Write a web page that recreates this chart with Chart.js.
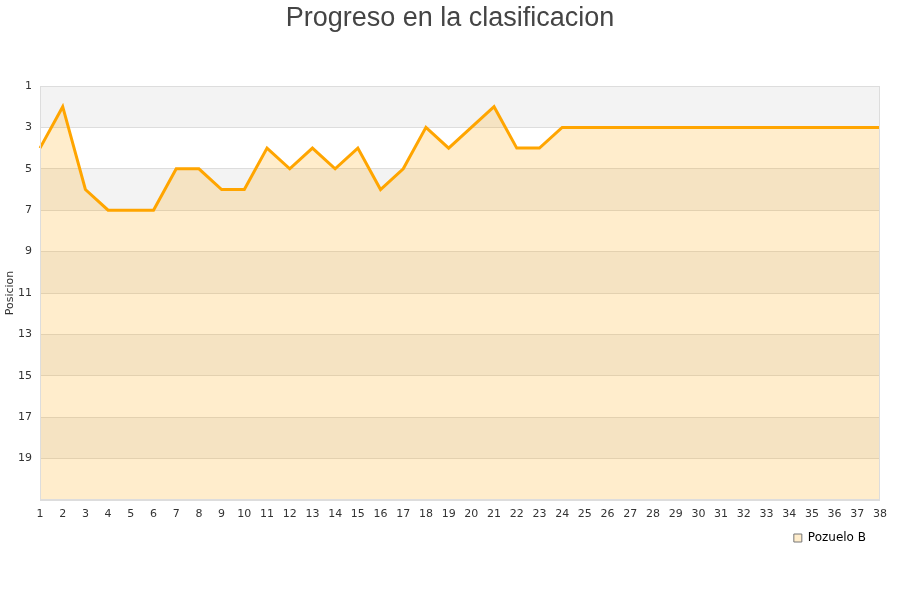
<!DOCTYPE html>
<html>
<head>
<meta charset="utf-8">
<script src="https://cdn.jsdelivr.net/npm/chart.js@4/dist/chart.umd.min.js"></script>
<style>
html,body{margin:0;padding:0;background:#fff;}
#wrap{width:900px;height:600px;}
</style>
</head>
<body>
<div id="wrap"><canvas id="c" width="900" height="600"></canvas></div>
<script>
const jornadas = ["1","2","3","4","5","6","7","8","9","10","11","12","13","14","15","16","17","18","19","20","21","22","23","24","25","26","27","28","29","30","31","32","33","34","35","36","37","38"];
const posiciones = [4,2,6,7,7,7,5,5,6,6,4,5,4,5,4,6,5,3,4,3,2,4,4,3,3,3,3,3,3,3,3,3,3,3,3,3,3,3];
const yTicks = [1,3,5,7,9,11,13,15,17,19];
const seriesName = "Pozuelo B";
const chartTitle = "Progreso en la clasificacion";
const yTitle = "Posicion";
const yMin = 1, yMax = 21;

const bandPlugin = {
  id: 'bands',
  beforeDraw(chart) {
    const {ctx, chartArea: a, scales: {y}} = chart;
    ctx.save();
    for (let v = yMin, i = 0; v < yMax; v += 2, i++) {
      const p1 = y.getPixelForValue(v), p2 = y.getPixelForValue(v + 2);
      ctx.fillStyle = i % 2 === 0 ? '#f3f3f3' : '#ffffff';
      ctx.fillRect(a.left, Math.min(p1,p2), a.right - a.left, Math.abs(p2 - p1));
    }
    ctx.restore();
  },
  afterDatasetsDraw(chart) {
    const {ctx, chartArea: a} = chart;
    ctx.save();
    ctx.strokeStyle = '#dddddd';
    ctx.lineWidth = 1;
    ctx.strokeRect(a.left + 0.5, a.top + 0.5, a.right - a.left - 1, a.bottom - a.top - 1);
    ctx.restore();
  },
  afterDraw(chart) {
    const {ctx, width} = chart;
    ctx.save();
    ctx.fillStyle = '#444444';
    ctx.font = '27px "Liberation Sans", Arial, sans-serif';
    ctx.textAlign = 'center';
    ctx.textBaseline = 'alphabetic';
    ctx.fillText(chartTitle, width / 2, 26);
    ctx.restore();
  }
};

new Chart(document.getElementById('c'), {
  type: 'line',
  data: {
    labels: jornadas,
    datasets: [{
      label: seriesName,
      data: posiciones,
      borderColor: '#ffa500',
      backgroundColor: 'rgba(255,165,0,0.2)',
      borderWidth: 3,
      pointRadius: 0,
      tension: 0,
      fill: {value: yMax}
    }]
  },
  options: {
    responsive: false,
    animation: false,
    layout: {padding: {left: 0, right: 20, top: 86, bottom: 46}},
    plugins: {
      title: {display: false},
      legend: {
        position: 'bottom',
        align: 'end',
        labels: {
          boxWidth: 8, boxHeight: 8,
          color: '#000',
          padding: 14,
          font: {family: 'DejaVu Sans, sans-serif', size: 12},
          generateLabels(chart) {
            return [{text: seriesName, fillStyle: '#ffedcc', strokeStyle: '#777', lineWidth: 1, datasetIndex: 0, fontColor: '#000'}];
          }
        }
      },
      tooltip: {enabled: false}
    },
    scales: {
      x: {
        offset: false,
        grid: {display: false, drawTicks: false},
        border: {display: false},
        ticks: {autoSkip: false, maxRotation: 0, color: '#333', padding: 8,
          font: {family: 'DejaVu Sans, sans-serif', size: 11}},
        afterFit(s) { s.height = 18; }
      },
      y: {
        reverse: true,
        min: yMin, max: yMax,
        afterBuildTicks(s) { s.ticks = yTicks.concat([yMax]).map(v => ({value: v})); },
        grid: {color: '#dddddd', drawTicks: false},
        border: {display: false},
        ticks: {color: '#333', padding: 8,
          font: {family: 'DejaVu Sans, sans-serif', size: 11},
          callback: v => (v === yMax ? '' : v)},
        title: {display: true, text: yTitle, color: '#333', padding: {top: 4, bottom: 0},
          font: {family: 'DejaVu Sans, sans-serif', size: 11}},
        afterFit(s) { s.width = 40; }
      }
    }
  },
  plugins: [bandPlugin]
});
</script>
</body>
</html>
